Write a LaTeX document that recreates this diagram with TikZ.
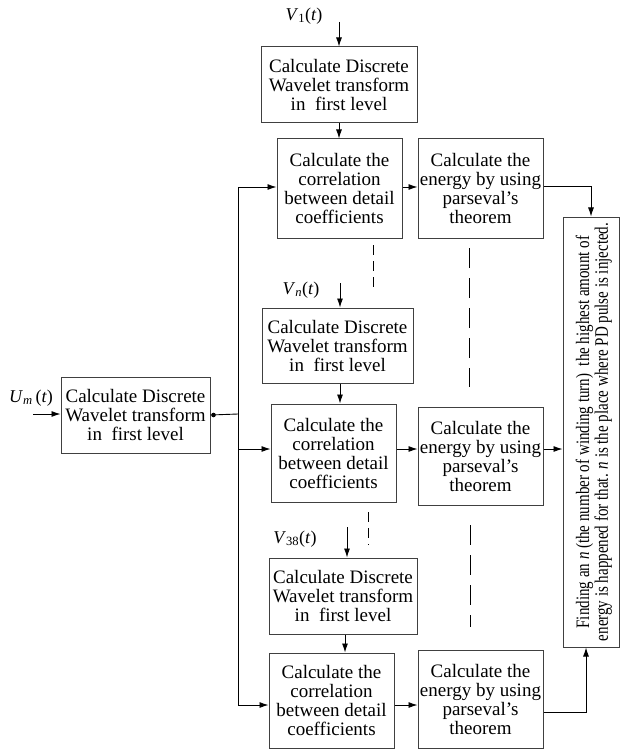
\documentclass[tikz,border=0pt]{standalone}
\usepackage{fontspec}
\setmainfont{Liberation Serif}
\usepackage{tikz}
\usetikzlibrary{arrows.meta}

\newcommand{\sig}[2]{\textit{#1}\textsubscript{#2}(\textit{t})}

\begin{document}
\begin{tikzpicture}[
    x=1pt, y=-1pt,
    every node/.style={font=\fontsize{19}{19}\selectfont},
    blk/.style={rectangle, draw=black!75, line width=1pt, inner sep=0pt, align=center},
    e/.style={-{Latex[length=9pt,width=6pt]}, line width=0.9pt},
    lbl/.style={font=\fontsize{18}{18}\selectfont, inner sep=1pt},
    dsa/.style={line width=0.9pt, dash pattern=on 10pt off 6pt},
    dsb/.style={line width=0.9pt, dash pattern=on 20pt off 10pt},
  ]
  \useasboundingbox (0,0) rectangle (624,751);
  % left input block
  \node[blk, minimum width=149, minimum height=76] (dwtU) at (135.5,415)
    {Calculate Discrete\\Wavelet transform\\in\ \ first level};
  % first branch
  \node[blk, minimum width=156, minimum height=76] (dwtA) at (339,85)
    {Calculate Discrete\\Wavelet transform\\in\ \ first level};
  \node[blk, minimum width=125, minimum height=99] (corA) at (339.5,188.5)
    {Calculate the\\correlation\\between detail\\coefficients};
  \node[blk, minimum width=125, minimum height=99] (engA) at (480.5,188.5)
    {Calculate the\\energy by using\\parseval’s\\theorem};
  % n-th branch
  \node[blk, minimum width=151, minimum height=75] (dwtB) at (337.5,345.5)
    {Calculate Discrete\\Wavelet transform\\in\ \ first level};
  \node[blk, minimum width=125, minimum height=98] (corB) at (333.5,453)
    {Calculate the\\correlation\\between detail\\coefficients};
  \node[blk, minimum width=125, minimum height=98] (engB) at (480.5,456)
    {Calculate the\\energy by using\\parseval’s\\theorem};
  % last branch
  \node[blk, minimum width=148, minimum height=76] (dwtC) at (343,596)
    {Calculate Discrete\\Wavelet transform\\in\ \ first level};
  \node[blk, minimum width=125, minimum height=95] (corC) at (331.5,700.5)
    {Calculate the\\correlation\\between detail\\coefficients};
  \node[blk, minimum width=125, minimum height=98] (engC) at (480.5,699)
    {Calculate the\\energy by using\\parseval’s\\theorem};
  % result block
  \node[blk, minimum width=56, minimum height=430] (fin) at (591,432) {};
  \node[rotate=90, inner sep=0pt] (finT) at ([xshift=3.5pt]fin.center)
    {\scalebox{0.79}[1]{\fontsize{19}{18}\selectfont\begin{tabular}{@{}c@{}}
      Finding an \textit{n} (the number of winding turn)\ \ the highest amount of\\
      energy is happened for that. \textit{n} is the place where PD pulse is injected.
    \end{tabular}}};
  % signal labels
  \node[lbl] (lU) at (31,398) {\textit{U}\textsubscript{\textit{m}}\,(\textit{t})};
  \node[lbl] (lA) at (304,16) {\sig{V}{1}};
  \node[lbl] (lB) at (301,290) {\sig{V}{\textit{n}}};
  \node[lbl] (lC) at (295,539) {\sig{V}{38}};
  \coordinate (inU) at (33,414);
  \coordinate (inA) at (339,22);
  \coordinate (inB) at (340,283);
  \coordinate (inC) at (347,527);
  \coordinate (jn) at (238,414);
  % connectors
  \draw[e] (inU) -- (inU -| dwtU.west);
  \draw[e] (inA) -- (inA |- dwtA.north);
  \draw[e] (inB) -- (inB |- dwtB.north);
  \draw[e] (inC) -- (inC |- dwtC.north);
  \draw[e] (dwtA.south) -- (dwtA.south |- corA.north);
  \draw[e] ([xshift=2.5pt]dwtB.south) -- ([xshift=2.5pt]dwtB.south |- corB.north);
  \draw[e] ([xshift=2pt]dwtC.south) -- ([xshift=2pt]dwtC.south |- corC.north);
  \fill ([xshift=3pt]dwtU.east) circle (2.3pt);
  \draw[line width=0.9pt] (dwtU.east) -- (jn);
  \draw[e] (jn) |- ([yshift=1.5pt]corA.west);
  \draw[e] (jn) |- ([yshift=4pt]corB.west);
  \draw[e] (jn) |- ([yshift=-4.5pt]corC.west);
  \draw[e] ([yshift=1.5pt]corA.east) -- ([yshift=1.5pt]corA.east -| engA.west);
  \draw[e] ([yshift=4pt]corB.east) -- ([yshift=4pt]corB.east -| engB.west);
  \draw[e] ([yshift=-4.5pt]corC.east) -- ([yshift=-4.5pt]corC.east -| engC.west);
  \draw[e] ([yshift=2.5pt]engA.east) -| (fin.north);
  \draw[e] ([yshift=7pt]engB.east) -- ([yshift=7pt]engB.east -| fin.west);
  \draw[e] ([yshift=-13pt]engC.east) -| ([xshift=-5pt]fin.south);
  % dashed continuation marks
  \draw[dsa] (373,245) -- (373,287);
  \draw[dsb] (469,248) -- (469,387);
  \draw[dsa] (368,512) -- (368,545);
  \draw[dsb] (470,525) -- (470,627);
\end{tikzpicture}
\end{document}
